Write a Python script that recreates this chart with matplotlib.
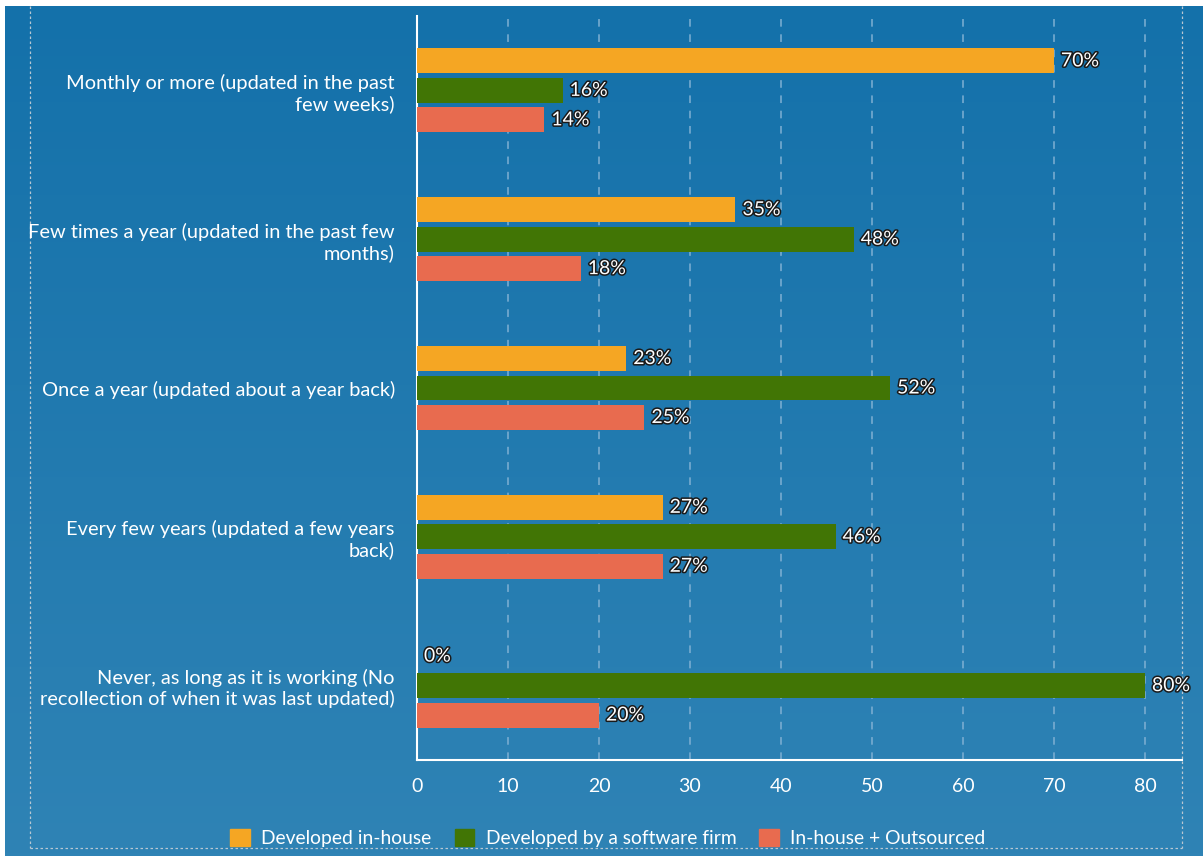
import matplotlib
matplotlib.use("Agg")
import matplotlib.pyplot as plt
import matplotlib.patheffects as pe
import numpy as np
from matplotlib.patches import Rectangle

categories = [
    "Monthly or more (updated in the past\nfew weeks)",
    "Few times a year (updated in the past few\nmonths)",
    "Once a year (updated about a year back)",
    "Every few years (updated a few years\nback)",
    "Never, as long as it is working (No\nrecollection of when it was last updated)",
]
series_names = ["Developed in-house", "Developed by a software firm", "In-house + Outsourced"]
in_house = [70, 35, 23, 27, 0]
software_firm = [16, 48, 52, 46, 80]
outsourced = [14, 18, 25, 27, 20]
x_ticks = [0, 10, 20, 30, 40, 50, 60, 70, 80]

colors = ["#F5A623", "#417505", "#E86B4F"]
plt.rcParams["font.family"] = ["Lato", "DejaVu Sans"]

W, H = 1203, 856
fig = plt.figure(figsize=(W / 100, H / 100), dpi=100)
fig.patch.set_facecolor("white")

# gradient background
bg = fig.add_axes([5 / W, 0, 1 - 5 / W, 1 - 6 / H])
grad = np.linspace(0, 1, 256).reshape(-1, 1)
top = np.array([0x14, 0x71, 0xAA]) / 255
bot = np.array([0x2F, 0x83, 0xB5]) / 255
img = top + (bot - top) * grad[..., None]
bg.imshow(img, aspect="auto", extent=[0, 1, 0, 1], origin="upper")
bg.set_axis_off()

# dotted frame
frame = fig.add_axes([0, 0, 1, 1], facecolor="none")
frame.set_xlim(0, W)
frame.set_ylim(H, 0)
frame.set_axis_off()
fc = "#B9C7D2"
frame.plot([30, 30], [6, 848], ls=(0, (2, 2)), color=fc, lw=0.9)
frame.plot([1182, 1182], [6, 848], ls=(0, (2, 2)), color=fc, lw=0.9)
frame.plot([30, 1182], [848, 848], ls=(0, (2, 2)), color=fc, lw=0.9)

ax = fig.add_axes([417 / W, 1 - 760 / H, (1182 - 417) / W, (760 - 16) / H], facecolor="none")
y = np.arange(len(categories))
h = 0.168
off = 0.198
data = [in_house, software_firm, outsourced]
stroke = [pe.withStroke(linewidth=2.2, foreground="#1a1a1a")]
for i, (vals, c) in enumerate(zip(data, colors)):
    ypos = y + (i - 1) * off
    ax.barh(ypos, vals, height=h, color=c, zorder=3)
    for yy, v in zip(ypos, vals):
        ax.annotate(f"{v}%", (v, yy), xytext=(5, 0), textcoords="offset points",
                    va="center", ha="left", color="white", fontsize=14,
                    path_effects=stroke, zorder=4)

ax.set_xlim(0, 84.07)
ax.set_ylim(4.5, -0.5)
ax.set_xticks(x_ticks)
ax.set_xticklabels([str(t) for t in x_ticks])
ax.set_yticks(y)
ax.set_yticklabels(categories, linespacing=1.2)
ax.tick_params(axis="both", length=0, colors="white")
ax.tick_params(axis="x", pad=13, labelsize=14)
ax.tick_params(axis="y", pad=16, labelsize=14.4)
for lab in ax.get_yticklabels():
    lab.set_horizontalalignment("right")
ax.grid(axis="x", color="#7FB0D3", ls=(0, (5, 5)), lw=1.1, zorder=1)
for s in ["top", "right"]:
    ax.spines[s].set_visible(False)
ax.spines["left"].set_color("white")
ax.spines["bottom"].set_color("white")
ax.spines["left"].set_linewidth(1.5)
ax.spines["bottom"].set_linewidth(1.5)

handles = [Rectangle((0, 0), 1, 1, color=c) for c in colors]
leg = fig.legend(handles, series_names, loc="center", bbox_to_anchor=(608 / W, 1 - 838 / H),
                 ncol=3, frameon=False, fontsize=13.9, labelcolor="white",
                 handlelength=1.0, handleheight=1.0, handletextpad=0.6, columnspacing=1.2)

fig.savefig("out.png", dpi=100)
